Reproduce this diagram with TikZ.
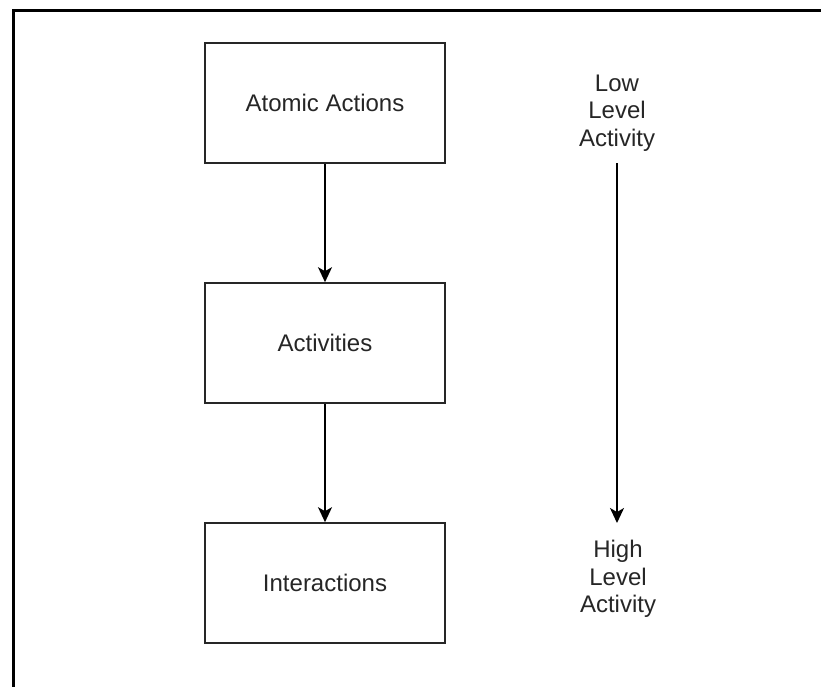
\documentclass[tikz,border=0pt]{standalone}
\usepackage{fontspec}
\setmainfont{Liberation Sans}
\usetikzlibrary{arrows.meta}
\begin{document}
\begin{tikzpicture}[x=1pt,y=-1pt,
  levelbox/.style={draw=black!85,line width=1.6pt,minimum width=240pt,minimum height=120pt,
    inner sep=0pt,font=\fontsize{24}{27.6}\selectfont,text=black!85},
  sidelabel/.style={align=center,inner sep=0pt,font=\fontsize{24}{27.6}\selectfont,text=black!85},
  flow/.style={line width=1.6pt,-{Stealth[length=15pt,width=14pt,inset=4pt]}}]
  \useasboundingbox (0,0) rectangle (821,686);
  % outer frame
  \draw[line width=3.6pt] (13.5,690) -- (13.5,10.5) -- (825,10.5);
  % hierarchy of boxes
  \node[levelbox] (atomic) at (325,103) {Atomic Actions};
  \node[levelbox] (activities) at (325,343) {Activities};
  \node[levelbox] (interactions) at (325,583) {Interactions};
  \draw[flow] (atomic) -- (activities);
  \draw[flow] (activities) -- (interactions);
  % activity level scale
  \node[sidelabel] (low) at (617,113) {Low\\Level\\Activity};
  \node[sidelabel] (high) at (618,579) {High\\Level\\Activity};
  \coordinate (lowend) at (617,163);
  \coordinate (highend) at (617,523);
  \draw[flow] (lowend) -- (highend);
\end{tikzpicture}
\end{document}
